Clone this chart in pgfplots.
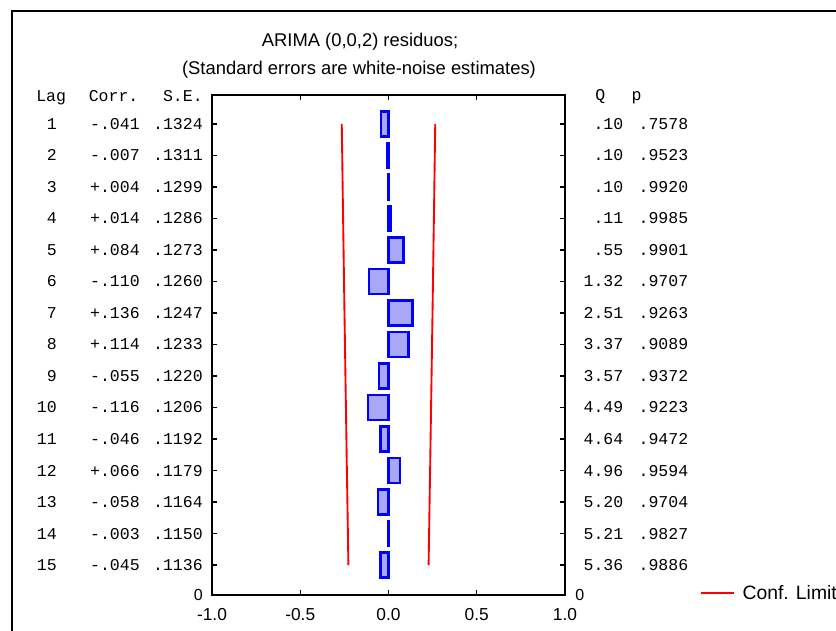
\documentclass[border=0pt]{standalone}
\usepackage{fontspec}
\setmainfont{Liberation Sans}
\setmonofont{Liberation Mono}
\usepackage{pgfplots}
\pgfplotsset{compat=1.18}

\definecolor{barfill}{RGB}{168,168,246}
\definecolor{barline}{RGB}{0,0,255}
\definecolor{conf}{RGB}{255,0,0}

% left table: lag, corr, s.e. ; right table: Q, p
\newcommand\lrow[3]{\makebox[26pt][r]{#1}\makebox[62.25pt][r]{#2}\makebox[47.25pt][r]{#3}}
\newcommand\rrow[2]{\makebox[36pt][r]{#1}\makebox[48.75pt][r]{#2}}
\newcommand\monofont{\fontsize{12.4}{14}\ttfamily}
\newcommand\sansfont{\fontsize{13}{15}\selectfont}
\newcommand\zerofont{\fontsize{12}{14}\rmfamily}

\begin{document}
\begin{tikzpicture}
% 1 px of the reference = 0.75pt, y measured from the bottom edge
\draw[line width=1.3pt] (9pt,465pt) rectangle (700pt,-60pt);

\node[anchor=base, inner sep=0pt, font=\fontsize{13.8}{16}\selectfont] at (270pt,438pt) {ARIMA (0,0,2) residuos;};
\node[anchor=base, inner sep=0pt, font=\fontsize{13.8}{16}\selectfont] at (269.25pt,417pt) {(Standard errors are white-noise estimates)};

\node[anchor=base west, inner sep=0pt, font=\monofont] at (27pt,396.75pt) {Lag};
\node[anchor=base east, inner sep=0pt, font=\monofont] at (104pt,396.75pt) {Corr.};
\node[anchor=base east, inner sep=0pt, font=\monofont] at (152.25pt,396.75pt) {S.E.};
\node[anchor=base west, inner sep=0pt, font=\monofont] at (446.25pt,397.5pt) {Q};
\node[anchor=base west, inner sep=0pt, font=\monofont] at (473.5pt,397.5pt) {p};

\begin{axis}[
    at={(159pt,27pt)}, anchor=south west,
    scale only axis, width=264.75pt, height=375pt,
    xmin=-1, xmax=1, ymin=0.08, ymax=15.95,
    y dir=reverse,
    axis line style={line width=1.3pt},
    tick style={black, line width=1pt},
    major tick length=3.75pt,
    xtick={-1,-0.5,0,0.5,1},
    xticklabels={-1.0,-0.5,0.0,0.5,1.0},
    xticklabel style={font=\sansfont, inner sep=0pt, yshift=-9.75pt},
    ytick={1,...,15},
    yticklabels={
      \lrow{1}{-.041}{.1324},
      \lrow{2}{-.007}{.1311},
      \lrow{3}{+.004}{.1299},
      \lrow{4}{+.014}{.1286},
      \lrow{5}{+.084}{.1273},
      \lrow{6}{-.110}{.1260},
      \lrow{7}{+.136}{.1247},
      \lrow{8}{+.114}{.1233},
      \lrow{9}{-.055}{.1220},
      \lrow{10}{-.116}{.1206},
      \lrow{11}{-.046}{.1192},
      \lrow{12}{+.066}{.1179},
      \lrow{13}{-.058}{.1164},
      \lrow{14}{-.003}{.1150},
      \lrow{15}{-.045}{.1136}},
    yticklabel style={font=\monofont, inner sep=0pt, anchor=east, xshift=-6.75pt},
    extra y ticks={15.95},
    extra y tick labels={{\zerofont 0}},
    extra y tick style={major tick length=0pt},
    legend style={at={(1.381,0.004)}, anchor=west, draw=none, fill=none,
      inner sep=0pt, font=\fontsize{14.5}{17}\selectfont},
    legend image code/.code={\draw[#1] (0pt,0pt) -- (24.75pt,0pt);},
  ]

  \addplot[xbar, bar width=0.8, bar shift=0pt, draw=barline, fill=barfill,
    line width=1.8pt, forget plot] coordinates {
    (-0.041,1) (-0.007,2) (0.004,3) (0.014,4) (0.084,5)
    (-0.110,6) (0.136,7) (0.114,8) (-0.055,9) (-0.116,10)
    (-0.046,11) (0.066,12) (-0.058,13) (-0.003,14) (-0.045,15)
  };

  \addplot[conf, line width=1.4pt, forget plot] coordinates {
    (-0.2648,1) (-0.2622,2) (-0.2598,3) (-0.2572,4) (-0.2546,5)
    (-0.2520,6) (-0.2494,7) (-0.2466,8) (-0.2440,9) (-0.2412,10)
    (-0.2384,11) (-0.2358,12) (-0.2328,13) (-0.2300,14) (-0.2272,15)
  };
  \addplot[conf, line width=1.4pt] coordinates {
    (0.2648,1) (0.2622,2) (0.2598,3) (0.2572,4) (0.2546,5)
    (0.2520,6) (0.2494,7) (0.2466,8) (0.2440,9) (0.2412,10)
    (0.2384,11) (0.2358,12) (0.2328,13) (0.2300,14) (0.2272,15)
  };
  \addlegendentry{\hspace{4pt}Conf. Limit}
\end{axis}

\begin{axis}[
    at={(159pt,27pt)}, anchor=south west,
    scale only axis, width=264.75pt, height=375pt,
    xmin=-1, xmax=1, ymin=0.08, ymax=15.95,
    y dir=reverse,
    hide x axis,
    axis y line*=right,
    y axis line style={draw=none},
    major tick length=0pt,
    ytick={1,...,15},
    yticklabels={
      \rrow{.10}{.7578},
      \rrow{.10}{.9523},
      \rrow{.10}{.9920},
      \rrow{.11}{.9985},
      \rrow{.55}{.9901},
      \rrow{1.32}{.9707},
      \rrow{2.51}{.9263},
      \rrow{3.37}{.9089},
      \rrow{3.57}{.9372},
      \rrow{4.49}{.9223},
      \rrow{4.64}{.9472},
      \rrow{4.96}{.9594},
      \rrow{5.20}{.9704},
      \rrow{5.21}{.9827},
      \rrow{5.36}{.9886}},
    yticklabel style={font=\monofont, inner sep=0pt, anchor=west, xshift=7.5pt},
    extra y ticks={15.95},
    extra y tick labels={{\zerofont 0}},
  ]
  \addplot[draw=none, forget plot] coordinates {(0,1) (0,15)};
\end{axis}

\pgfresetboundingbox
\useasboundingbox (0,0) rectangle (627pt,473.25pt);
\end{tikzpicture}
\end{document}
